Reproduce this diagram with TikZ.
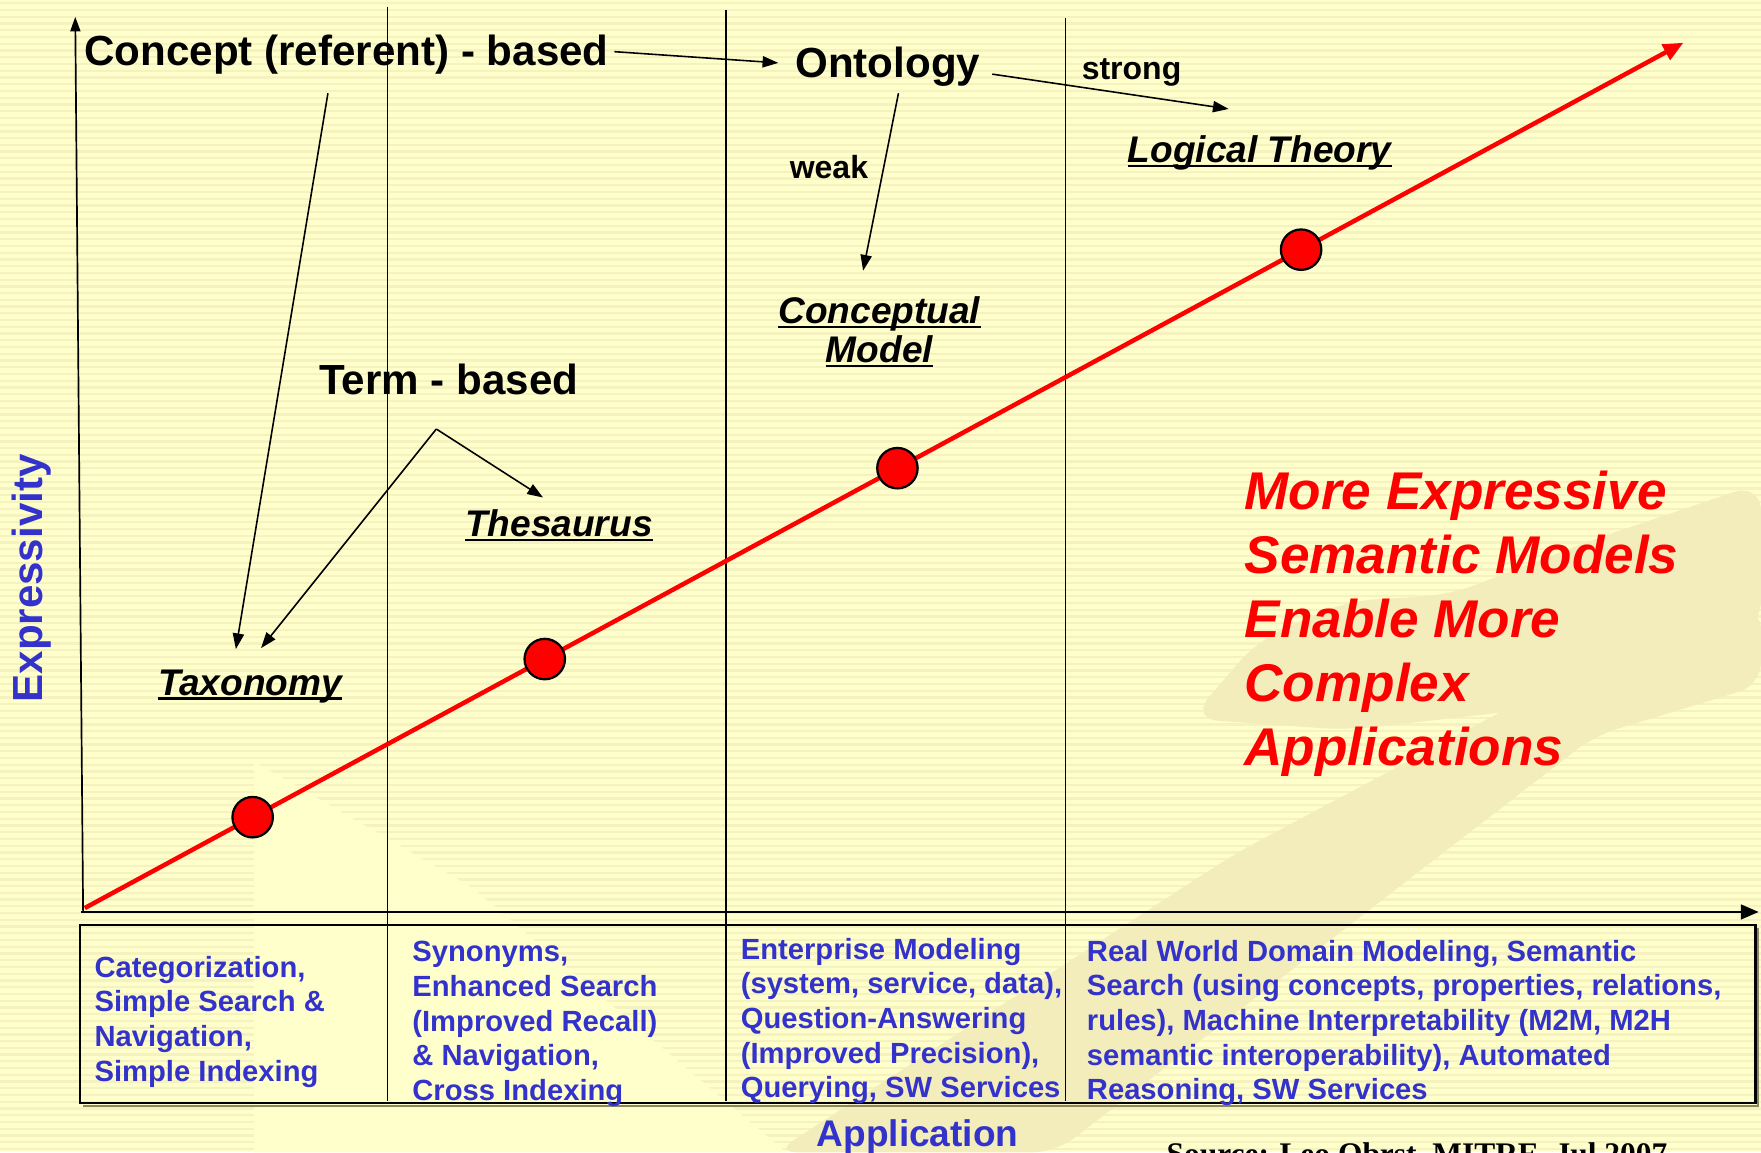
\documentclass[tikz,border=0pt]{standalone}
\usepackage{fontspec}
\setmainfont{Liberation Sans}
\newfontfamily\srcfont{Liberation Serif}
\usetikzlibrary{arrows.meta,calc}
\definecolor{bgyellow}{HTML}{FFFFCC}
\definecolor{stripecol}{HTML}{F6F2C0}
\definecolor{wmcol}{HTML}{F3EDBB}
\definecolor{textblue}{HTML}{3333CC}
\definecolor{shadowcol}{HTML}{8A8660}
\begin{document}
\begin{tikzpicture}[x=1pt,y=-1pt,
  conn/.style={-{Triangle[length=14pt,width=10pt]}, line width=1.4pt, black},
  yaxis/.style={-{Triangle[length=13pt,width=9pt]}, line width=1.5pt, black},
  xaxis/.style={-{Triangle[length=16pt,width=13pt]}, line width=2.5pt, black},
  vl/.style={line width=1.2pt, black},
  redarrow/.style={-{Triangle[length=18pt,width=15pt]}, line width=4pt, red},
  dot/.style={circle, minimum size=36pt, inner sep=0pt, fill=red, draw=black, line width=2pt},
  bigtxt/.style={font=\fontsize{37.5}{45}\selectfont\bfseries, inner sep=0pt},
  midtxt/.style={font=\fontsize{28.5}{34}\selectfont\bfseries, inner sep=0pt},
  itxt/.style={font=\fontsize{33}{40}\selectfont\bfseries\itshape, inner sep=0pt},
  uline/.style={line width=2.2pt, black},
  redtxt/.style={font=\fontsize{47.3}{57}\selectfont\bfseries\itshape, text=red, inner sep=0pt},
  bluetxt/.style={font=\fontsize{26}{31}\selectfont\bfseries, text=textblue, inner sep=0pt},
  axlab/.style={font=\fontsize{37.5}{45}\selectfont\bfseries, text=textblue, inner sep=0pt},
  applab/.style={font=\fontsize{33}{40}\selectfont\bfseries, text=textblue, inner sep=0pt},
  srctxt/.style={font=\fontsize{28}{34}\srcfont\bfseries, text=black, inner sep=0pt}
]
\useasboundingbox (0,0) rectangle (1568,1026);
% background
\fill[bgyellow] (0,0) rectangle (1568,1026);
\foreach \k in {0,...,171} \fill[stripecol] (0,{\k*6+2}) rectangle (1568,{\k*6+4});
% watermark
\fill[bgyellow] (226,678) -- (420,790) -- (700,1026) -- (226,1026) -- cycle;
\fill[wmcol, rounded corners=20pt] (690,1026) -- (1100,760) -- (1400,600) -- (1568,540) -- (1568,610) -- (1420,655) -- (940,1026) -- cycle;
\fill[wmcol, rounded corners=25pt] (1060,640) -- (1120,570) -- (1200,535) -- (1290,530) -- (1420,480) -- (1568,430) -- (1568,560) -- (1420,625) -- (1200,650) -- cycle;

% vertical separators
\draw[vl] (345,6) -- (345,980);
\draw[vl] (646.5,9) -- (646.5,980);
\draw[vl] (948.5,16) -- (948.5,980);

% bottom box
\draw[shadowcol, line width=2pt] (74,985) -- (1565.5,985) -- (1565.5,826);
\draw[black, line width=2pt] (71.5,823.5) rectangle (1563,982);

% axes
\coordinate (origin) at (74,812);
\coordinate (ytop) at (67,15);
\coordinate (xstart) at (72,812);
\coordinate (xend) at (1566,812);
\draw[yaxis] (origin) -- (ytop);
\draw[xaxis] (xstart) -- (xend);

% red trend line
\coordinate (rs) at (75.5,808.5);
\coordinate (re) at (1499,38);
\draw[redarrow] (rs) -- (re);
\node[dot] (d1) at ($(rs)!0.105!(re)$) {};
\node[dot] (d2) at ($(rs)!0.2877!(re)$) {};
\node[dot] (d3) at ($(rs)!0.5083!(re)$) {};
\node[dot] (d4) at ($(rs)!0.7608!(re)$) {};

% labels
\node[bigtxt, anchor=base west] (concept) at (75,58) {Concept (referent) - based};
\node[bigtxt, anchor=base west] (ontology) at (708,69) {Ontology};
\node[midtxt, anchor=base west] (strong) at (963,71) {strong};
\node[midtxt, anchor=base west] (weak) at (703,159) {weak};
\node[itxt, anchor=base west] (logical) at (1004,145) {Logical Theory};
\node[itxt, anchor=base] (concmodelA) at (783,288) {Conceptual};
\node[itxt, anchor=base] (concmodelB) at (783,323) {Model};
\node[bigtxt, anchor=base west] (term) at (284,351) {Term - based};
\node[itxt, anchor=base west] (thesaurus) at (414,478) {Thesaurus};
\node[itxt, anchor=base west] (taxonomy) at (140.5,619) {Taxonomy};
\foreach \n in {logical,concmodelA,concmodelB,thesaurus,taxonomy}
  \draw[uline] ($(\n.base west)+(0,3)$) -- ($(\n.base east)+(0,3)$);

% connectors
\coordinate (cA1) at (547,46);   \coordinate (cA2) at (693,56);
\coordinate (cB1) at (292,83);   \coordinate (cB2) at (210,578);
\coordinate (tApex) at (388.5,382);
\coordinate (cC2) at (232.5,577);
\coordinate (cD2) at (483.5,443);
\coordinate (oW1) at (800,83);   \coordinate (oW2) at (768.5,241);
\coordinate (oS1) at (883.5,66); \coordinate (oS2) at (1094,97);
\draw[conn] (cA1) -- (cA2);
\draw[conn] (cB1) -- (cB2);
\draw[conn] (tApex) -- (cC2);
\draw[conn] (tApex) -- (cD2);
\draw[conn] (oW1) -- (oW2);
\draw[conn] (oS1) -- (oS2);

% red statement
\foreach \t [count=\i] in {More Expressive, Semantic Models, Enable More, Complex, Applications}
  \node[redtxt, anchor=base west] (red\i) at (1108,{454+57*(\i-1)}) {\t};

% axis labels
\node[axlab, rotate=90, anchor=base] (expr) at (38,515) {Expressivity};
\node[applab, anchor=base] (appl) at (817,1021) {Application};
\node[srctxt, anchor=base west] (source) at (1038.5,1036.5) {Source: Leo Obrst, MITRE, Jul 2007};

% application columns
\foreach \t [count=\i] in {{Categorization,},{Simple Search \&},{Navigation,},{Simple Indexing}}
  \node[bluetxt, anchor=base west] (ca\i) at (84,{870+30.9*(\i-1)}) {\t};
\foreach \t [count=\i] in {{Synonyms,},{Enhanced Search},{(Improved Recall)},{\& Navigation,},{Cross Indexing}}
  \node[bluetxt, anchor=base west] (cb\i) at (367,{856.3+30.9*(\i-1)}) {\t};
\foreach \t [count=\i] in {{Enterprise Modeling},{(system, service, data),},{Question-Answering},{(Improved Precision),},{Querying, SW Services}}
  \node[bluetxt, anchor=base west] (cc\i) at (659.4,{854+30.9*(\i-1)}) {\t};
\foreach \t [count=\i] in {{Real World Domain Modeling, Semantic},{Search (using concepts, properties, relations,},{rules), Machine Interpretability (M2M, M2H},{semantic interoperability), Automated},{Reasoning, SW Services}}
  \node[bluetxt, anchor=base west] (cd\i) at (967.6,{855.7+30.9*(\i-1)}) {\t};
\end{tikzpicture}
\end{document}
